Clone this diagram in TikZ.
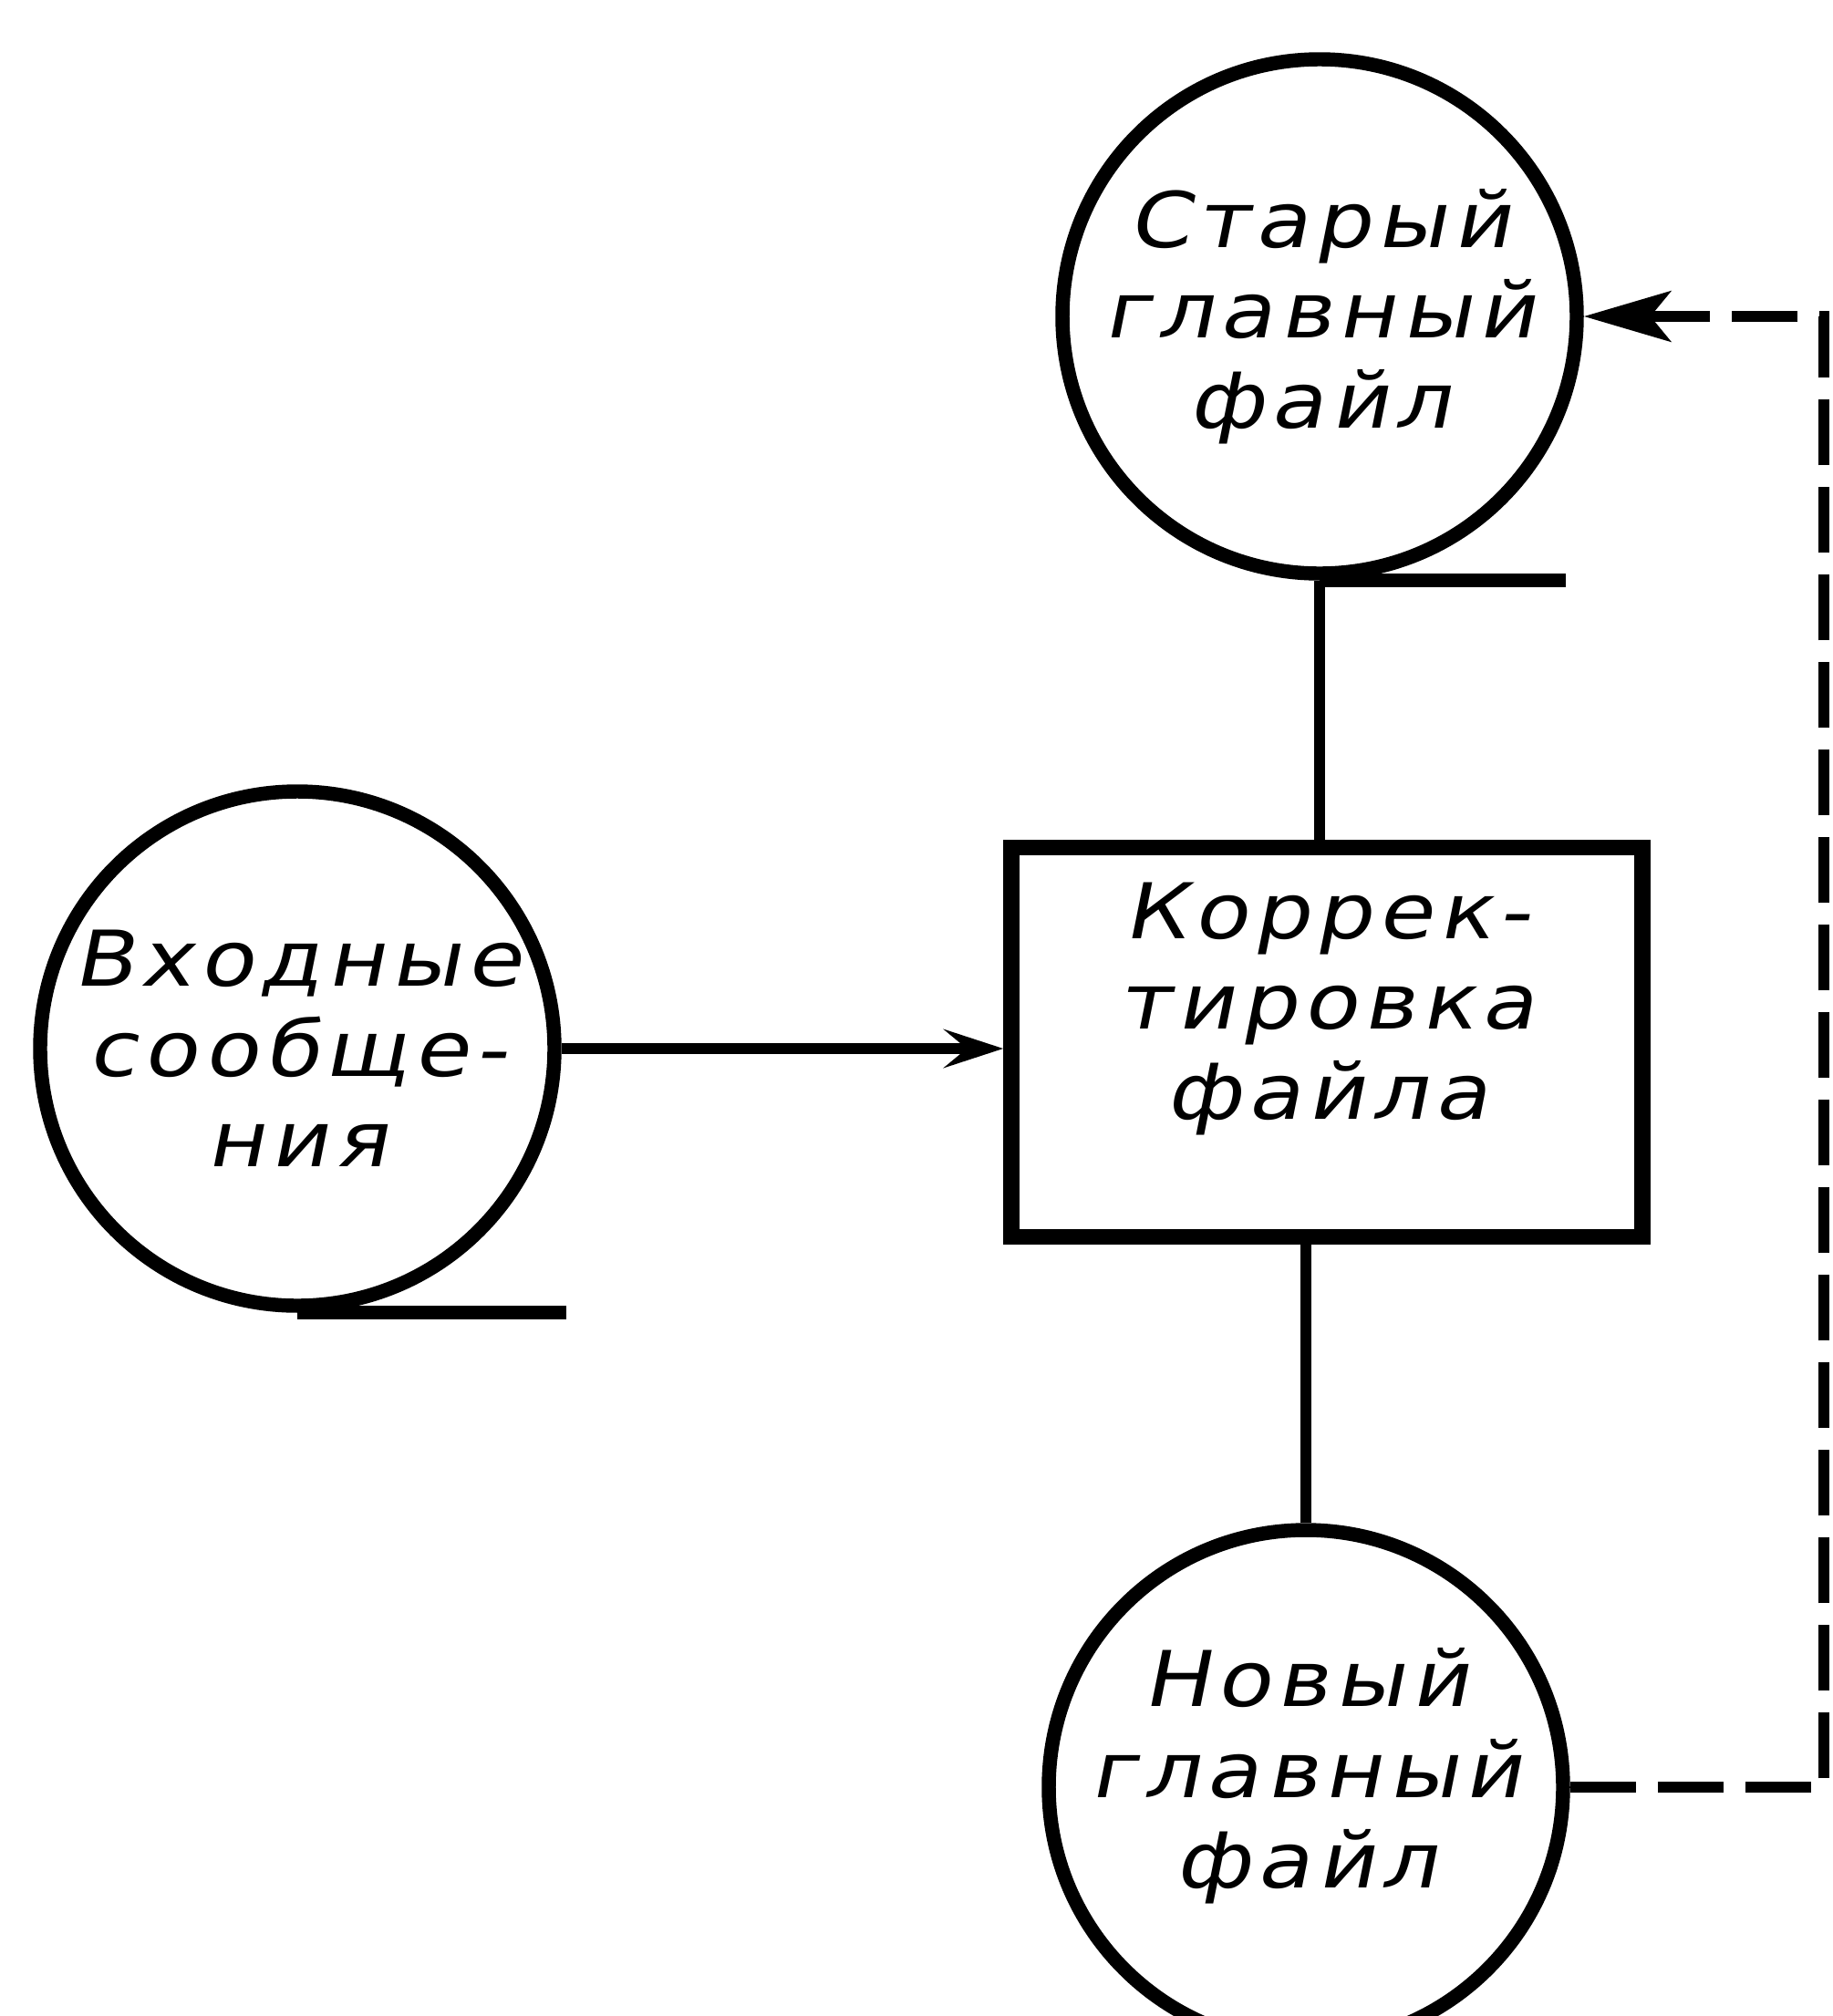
\documentclass[tikz,border=0pt]{standalone}
\usepackage{fontspec}
\newfontfamily\gost[FakeSlant=0.2, FakeStretch=1.15, LetterSpace=8]{DejaVu Sans}
\usetikzlibrary{arrows.meta}

\begin{document}
\begin{tikzpicture}[
    tape/.style={draw, circle, line width=4.4pt, minimum size=5.64cm, inner sep=0pt,
      align=center, font=\gost\fontsize{24}{28.2}\selectfont},
    proc/.style={draw, rectangle, line width=5pt, minimum width=6.92cm, minimum height=4.27cm,
      align=center, text depth=0.9cm, font=\gost\fontsize{24}{28.2}\selectfont},
    reel/.style={line width=4.4pt},
    link/.style={line width=3.4pt},
    back/.style={line width=3.6pt, dash pattern=on 0.72cm off 0.24cm}
  ]
  \useasboundingbox (0,0) rectangle (20.1,-22.11);
  \clip (0,0) rectangle (20.1,-22.11);
  \node[tape] (old) at (14.47,-3.47) {Старый\\главный\\файл};
  \node[tape] (inp) at (3.26,-11.50) {Входные\\сообще-\\ния};
  \node[proc] (upd) at (14.55,-11.43) {Коррек-\\тировка\\файла};
  \node[tape, text depth=0.42cm] (new) at (14.32,-19.60) {Новый\\главный\\файл};
  \draw[reel] (old.south) -- ++(2.7,0);
  \draw[reel] (inp.south) -- ++(2.95,0);
  \draw[link] (old.south) -- (old.south |- upd.north);
  \draw[link] (new.north) -- (new.north |- upd.south);
  \draw[link, -{Stealth[length=0.65cm, width=0.42cm, inset=0.25cm]}] (inp.east) -- (inp.east -| upd.west);
  \coordinate (rim) at (20.0,0);
  \coordinate (lo) at (new.east -| rim);
  \coordinate (hi) at (old.east -| rim);
  \draw[back, -{Stealth[length=0.95cm, width=0.55cm, inset=0.22cm]}] (new.east) -- (lo) -- (hi) -- (old.east);
\end{tikzpicture}
\end{document}
